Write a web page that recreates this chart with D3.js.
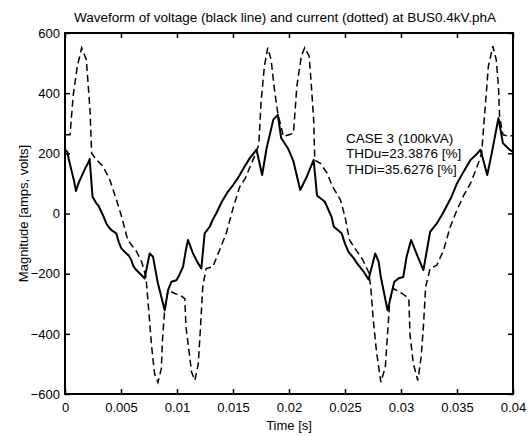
<!DOCTYPE html>
<html>
<head>
<meta charset="utf-8">
<script src="https://cdn.jsdelivr.net/npm/d3@7"></script>
<style>
  body { margin: 0; background: #fff; }
  text { font-family: "Liberation Sans", Arial, sans-serif; fill: #000; }
</style>
</head>
<body>
<div id="chart"></div>
<script>
// Waveform of voltage and current
const voltT = [0, 0.0002, 0.0004, 0.0006, 0.0008, 0.00098, 0.0012, 0.0015, 0.0018, 0.0021, 0.0022, 0.00246, 0.0028, 0.003, 0.00324, 0.0035, 0.00369, 0.0039, 0.00414, 0.00458, 0.0048, 0.00503, 0.00548, 0.0057, 0.00592, 0.0061, 0.00637, 0.0067, 0.00711, 0.00756, 0.00786, 0.0083, 0.0089, 0.0092, 0.0095, 0.00994, 0.0102, 0.01054, 0.0108, 0.01098, 0.01143, 0.0118, 0.01217, 0.01247, 0.01292, 0.0132, 0.0135, 0.014, 0.0145, 0.0149, 0.0153, 0.0156, 0.0161, 0.0165, 0.0171, 0.0176, 0.018, 0.0186, 0.019, 0.0193, 0.0199, 0.0204, 0.021, 0.0216, 0.0222, 0.0225, 0.0232, 0.0238, 0.024, 0.0247, 0.025, 0.0253, 0.0258, 0.0262, 0.0267, 0.0271, 0.0277, 0.028, 0.0282, 0.0288, 0.0294, 0.0298, 0.0302, 0.0305, 0.0309, 0.0315, 0.032, 0.0326, 0.0332, 0.0338, 0.0345, 0.035, 0.0356, 0.0362, 0.0367, 0.0371, 0.0377, 0.0381, 0.0387, 0.0391, 0.0397, 0.04];
const voltV = [212, 205, 170, 140, 110, 75, 100, 125, 150, 170, 181, 56, 34, 25, 6, -15, -33, -45, -55, -66, -95, -116, -133, -140, -155, -175, -188, -200, -216, -133, -144, -233, -322, -255, -227, -222, -205, -177, -120, -88, -133, -160, -183, -66, -44, -20, 0, 39, 70, 89, 110, 128, 160, 184, 212, 128, 217, 312, 328, 251, 217, 173, 78, 123, 178, 60, 39, -11, -44, -66, -100, -127, -150, -172, -195, -219, -133, -160, -211, -322, -227, -215, -211, -144, -88, -144, -188, -61, -33, 5, 55, 100, 140, 178, 195, 212, 128, 200, 317, 234, 212, 205];

const currT = [0, 0.00045, 0.00074, 0.0011, 0.00149, 0.0019, 0.00208, 0.00223, 0.00238, 0.00283, 0.0034, 0.004, 0.0046, 0.00506, 0.0056, 0.0064, 0.00685, 0.00723, 0.0074, 0.00774, 0.008, 0.0083, 0.0086, 0.0087, 0.0089, 0.0092, 0.0098, 0.0103, 0.0107, 0.0108, 0.0111, 0.0113, 0.0116, 0.0119, 0.0121, 0.0123, 0.0126, 0.0132, 0.0138, 0.0144, 0.015, 0.0156, 0.0161, 0.0169, 0.0173, 0.0175, 0.0178, 0.0181, 0.0184, 0.0187, 0.019, 0.0195, 0.02, 0.0204, 0.0207, 0.0211, 0.0214, 0.0218, 0.022, 0.0222, 0.0223, 0.0228, 0.0234, 0.0239, 0.0246, 0.025, 0.0254, 0.026, 0.0266, 0.0271, 0.0273, 0.0275, 0.0278, 0.0282, 0.0286, 0.0288, 0.029, 0.0293, 0.0301, 0.0307, 0.0308, 0.0311, 0.0315, 0.0318, 0.032, 0.0322, 0.0326, 0.0332, 0.0338, 0.0344, 0.035, 0.0356, 0.0362, 0.0368, 0.0372, 0.0375, 0.0378, 0.0382, 0.0385, 0.0387, 0.0388, 0.0391, 0.0397, 0.04];
const currV = [262, 262, 395, 489, 551, 512, 423, 345, 200, 178, 156, 112, 45, -11, -88, -127, -161, -211, -288, -444, -533, -561, -516, -422, -322, -255, -266, -272, -283, -377, -466, -527, -555, -499, -377, -244, -183, -177, -122, -66, 17, 89, 117, 189, 228, 367, 489, 551, 512, 412, 334, 256, 262, 267, 423, 523, 551, 523, 423, 312, 178, 167, 134, 89, 45, -11, -88, -122, -155, -194, -244, -344, -455, -561, -511, -400, -288, -249, -266, -283, -400, -499, -555, -477, -377, -244, -183, -172, -122, -44, 12, 60, 100, 156, 200, 345, 489, 556, 512, 423, 323, 262, 256, 260];

const xTicks = [0, 0.005, 0.01, 0.015, 0.02, 0.025, 0.03, 0.035, 0.04];
const yTicks = [-600, -400, -200, 0, 200, 400, 600];
const noteLines = ["CASE 3 (100kVA)", "THDu=23.3876 [%]", "THDi=35.6276 [%]"];

const width = 529, height = 436;
const margin = {top: 33, right: 16, bottom: 42, left: 65};

const svg = d3.select("#chart").append("svg")
    .attr("width", width)
    .attr("height", height);

svg.append("rect").attr("width", width).attr("height", height).attr("fill", "#fff");

const x = d3.scaleLinear().domain([0, 0.04]).range([margin.left, width - margin.right]);
const y = d3.scaleLinear().domain([-600, 600]).range([height - margin.bottom, margin.top]);

// curves
const line = d3.line().x(d => x(d[0])).y(d => y(d[1]));
const voltage = voltT.map((t, i) => [t, voltV[i]]);
const current = currT.map((t, i) => [t, currV[i]]);

svg.append("path")
    .datum(current)
    .attr("d", line)
    .attr("fill", "none")
    .attr("stroke", "#000")
    .attr("stroke-width", 1.5)
    .attr("stroke-dasharray", "7,4");

svg.append("path")
    .datum(voltage)
    .attr("d", line)
    .attr("fill", "none")
    .attr("stroke", "#000")
    .attr("stroke-width", 2)
    .attr("stroke-linejoin", "round");

// axes: ticks pointing inward on all four sides
const tickLen = 5;
const axisB = d3.axisBottom(x).tickValues(xTicks).tickSizeInner(-tickLen).tickSizeOuter(0).tickPadding(9).tickFormat(d => d3.format("")(+d.toFixed(3)));
const axisT = d3.axisTop(x).tickValues(xTicks).tickSizeInner(-tickLen).tickSizeOuter(0).tickFormat("");
const axisL = d3.axisLeft(y).tickValues(yTicks).tickSizeInner(-tickLen).tickSizeOuter(0).tickPadding(5);
const axisR = d3.axisRight(y).tickValues(yTicks).tickSizeInner(-tickLen).tickSizeOuter(0).tickFormat("");

function styleAxis(g) {
  g.select(".domain").remove();
  g.selectAll(".tick line").attr("stroke", "#000").attr("stroke-width", 1.5);
  g.selectAll(".tick text").attr("font-size", 13).attr("font-family", "Liberation Sans, Arial, sans-serif");
}

svg.append("g").attr("transform", `translate(0,${height - margin.bottom})`).call(axisB).call(styleAxis);
svg.append("g").attr("transform", `translate(0,${margin.top})`).call(axisT).call(styleAxis);
svg.append("g").attr("transform", `translate(${margin.left},0)`).call(axisL).call(styleAxis);
svg.append("g").attr("transform", `translate(${width - margin.right},0)`).call(axisR).call(styleAxis);

// frame
svg.append("rect")
    .attr("x", margin.left)
    .attr("y", margin.top)
    .attr("width", width - margin.left - margin.right)
    .attr("height", height - margin.top - margin.bottom)
    .attr("fill", "none")
    .attr("stroke", "#000")
    .attr("stroke-width", 2);

// title and axis labels
svg.append("text")
    .attr("x", (margin.left + width - margin.right) / 2 - 4)
    .attr("y", 22)
    .attr("text-anchor", "middle")
    .attr("font-size", 13.5)
    .text("Waveform of voltage (black line) and current (dotted) at BUS0.4kV.phA");

svg.append("text")
    .attr("x", (margin.left + width - margin.right) / 2)
    .attr("y", 430)
    .attr("text-anchor", "middle")
    .attr("font-size", 13)
    .text("Time [s]");

svg.append("text")
    .attr("transform", `translate(28,${(margin.top + height - margin.bottom) / 2}) rotate(-90)`)
    .attr("text-anchor", "middle")
    .attr("font-size", 13)
    .text("Magnitude [amps, volts]");

// annotation
svg.append("g").selectAll("text")
    .data(noteLines)
    .enter()
    .append("text")
    .attr("x", x(0.0251))
    .attr("y", (d, i) => y(235) + i * 15.5)
    .attr("font-size", 13.5)
    .text(d => d);
</script>
</body>
</html>
